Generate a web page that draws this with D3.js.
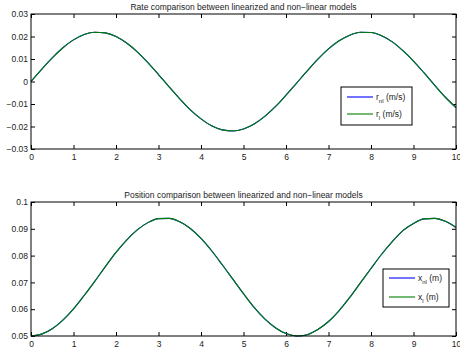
<!DOCTYPE html>
<html>
<head>
<meta charset="utf-8">
<script src="https://cdn.jsdelivr.net/npm/d3@7"></script>
<style>
body { margin: 0; background: #fff; }
text { font-family: "Liberation Sans", Arial, sans-serif; fill: #222; }
</style>
</head>
<body>
<svg id="chart" width="460" height="354"></svg>
<script>
// time samples (s)
var time = [0, 0.25, 0.5, 0.75, 1, 1.25, 1.5, 1.75, 2, 2.25, 2.5, 2.75, 3, 3.25, 3.5, 3.75, 4, 4.25, 4.5, 4.75, 5,
	5.25, 5.5, 5.75, 6, 6.25, 6.5, 6.75, 7, 7.25, 7.5, 7.75, 8, 8.25, 8.5, 8.75, 9, 9.25, 9.5, 9.75, 10];

// rate (m/s)
var rateNl = [0, 0.0054, 0.0105, 0.0150, 0.0185, 0.0209, 0.0219, 0.0216, 0.0200, 0.0171, 0.0132, 0.0084, 0.0031,
	-0.0024, -0.0077, -0.0126, -0.0166, -0.0197, -0.0215, -0.0220, -0.0211, -0.0189, -0.0155, -0.0112, -0.0061,
	-0.0007, 0.0047, 0.0099, 0.0145, 0.0181, 0.0206, 0.0219, 0.0218, 0.0203, 0.0176, 0.0137, 0.0091, 0.0038,
	-0.0017, -0.0070, -0.0116];
var rateL = [0, 0.0054, 0.0105, 0.0150, 0.0185, 0.0209, 0.0219, 0.0216, 0.0200, 0.0171, 0.0132, 0.0084, 0.0031,
	-0.0024, -0.0077, -0.0126, -0.0166, -0.0197, -0.0215, -0.0220, -0.0211, -0.0189, -0.0155, -0.0112, -0.0061,
	-0.0007, 0.0047, 0.0099, 0.0145, 0.0181, 0.0206, 0.0219, 0.0218, 0.0203, 0.0176, 0.0137, 0.0091, 0.0038,
	-0.0017, -0.0070, -0.0116];

// position (m)
var posNl = [0.0500, 0.0507, 0.0527, 0.0559, 0.0601, 0.0651, 0.0704, 0.0759, 0.0812, 0.0858, 0.0896, 0.0923, 0.0938,
	0.0939, 0.0926, 0.0901, 0.0864, 0.0818, 0.0766, 0.0712, 0.0658, 0.0607, 0.0564, 0.0531, 0.0509, 0.0500, 0.0505,
	0.0524, 0.0554, 0.0595, 0.0644, 0.0698, 0.0752, 0.0805, 0.0852, 0.0893, 0.0920, 0.0937, 0.0939, 0.0928, 0.0905];
var posL = [0.0500, 0.0507, 0.0527, 0.0559, 0.0601, 0.0651, 0.0704, 0.0759, 0.0812, 0.0858, 0.0896, 0.0923, 0.0938,
	0.0939, 0.0926, 0.0901, 0.0864, 0.0818, 0.0766, 0.0712, 0.0658, 0.0607, 0.0564, 0.0531, 0.0509, 0.0500, 0.0505,
	0.0524, 0.0554, 0.0595, 0.0644, 0.0698, 0.0752, 0.0805, 0.0852, 0.0893, 0.0920, 0.0937, 0.0939, 0.0928, 0.0905];

var xTicks = [0, 1, 2, 3, 4, 5, 6, 7, 8, 9, 10];
var rateTicks = [-0.03, -0.02, -0.01, 0, 0.01, 0.02, 0.03];
var posTicks = [0.05, 0.06, 0.07, 0.08, 0.09, 0.1];

var svg = d3.select("#chart");
var fs = "8.5px";

function fmt(v) {
	if (v == 0) return "0";
	var s = String(+v.toFixed(3));
	if (s.charAt(0) == "-") s = "\u2212" + s.slice(1);
	return s;
}

function panel(opt) {
	var x = d3.scaleLinear().domain([0, 10]).range([opt.left, opt.right]);
	var y = d3.scaleLinear().domain(opt.yDomain).range([opt.bottom, opt.top]);
	var g = svg.append("g");

	g.append("text")
		.attr("x", (opt.left + opt.right) / 2)
		.attr("y", opt.top - 4)
		.attr("text-anchor", "middle")
		.style("font-size", fs)
		.text(opt.title);

	// inward ticks on all four sides
	var tl = 4;
	g.append("g").attr("transform", "translate(0," + opt.bottom + ")")
		.call(d3.axisBottom(x).tickValues(xTicks).tickSizeInner(-tl).tickSizeOuter(0).tickPadding(5).tickFormat(d3.format("d")));
	g.append("g").attr("transform", "translate(0," + opt.top + ")")
		.call(d3.axisTop(x).tickValues(xTicks).tickSizeInner(-tl).tickSizeOuter(0).tickFormat(""));
	g.append("g").attr("transform", "translate(" + opt.left + ",0)")
		.call(d3.axisLeft(y).tickValues(opt.yTicks).tickSizeInner(-tl).tickSizeOuter(0).tickPadding(3).tickFormat(fmt));
	g.append("g").attr("transform", "translate(" + opt.right + ",0)")
		.call(d3.axisRight(y).tickValues(opt.yTicks).tickSizeInner(-tl).tickSizeOuter(0).tickFormat(""));
	g.selectAll(".domain").remove();
	g.selectAll(".tick line").attr("stroke", "#000");
	g.selectAll(".tick text").style("font-size", fs).attr("fill", "#222");

	var line = d3.line()
		.x(function (d, i) { return x(time[i]); })
		.y(function (d) { return y(d); })
		.curve(d3.curveMonotoneX);

	g.append("path").datum(opt.nl).attr("d", line)
		.attr("fill", "none").attr("stroke", "#0000ff").attr("stroke-width", 1.1);
	g.append("path").datum(opt.l).attr("d", line)
		.attr("fill", "none").attr("stroke", "#008000").attr("stroke-width", 1.1);

	g.append("rect")
		.attr("x", opt.left).attr("y", opt.top)
		.attr("width", opt.right - opt.left).attr("height", opt.bottom - opt.top)
		.attr("fill", "none").attr("stroke", "#000").attr("stroke-width", 1);

	// legend
	var lg = opt.legend;
	g.append("rect")
		.attr("x", lg.x).attr("y", lg.y).attr("width", lg.w).attr("height", lg.h)
		.attr("fill", "#fff").attr("stroke", "#000").attr("stroke-width", 1);
	lg.items.forEach(function (it, i) {
		var yy = lg.y + lg.rows[i];
		g.append("line")
			.attr("x1", lg.x + 6).attr("x2", lg.x + lg.lineLen)
			.attr("y1", yy).attr("y2", yy)
			.attr("stroke", it.color).attr("stroke-width", 1.1);
		var t = g.append("text")
			.attr("x", lg.x + lg.lineLen + 3).attr("y", yy + 3)
			.style("font-size", fs);
		t.append("tspan").text(it.base);
		t.append("tspan").attr("dy", 3).style("font-size", "6px").text(it.sub);
		t.append("tspan").attr("dy", -3).text(" " + it.unit);
	});
}

panel({
	left: 31, right: 456, top: 14, bottom: 149,
	yDomain: [-0.03, 0.03], yTicks: rateTicks,
	title: "Rate comparison between linearized and non\u2212linear models",
	nl: rateNl, l: rateL,
	legend: {
		x: 341, y: 87, w: 71, h: 38, lineLen: 32, rows: [10, 27],
		items: [
			{ base: "r", sub: "nl", unit: "(m/s)", color: "#0000ff" },
			{ base: "r", sub: "l", unit: "(m/s)", color: "#008000" }
		]
	}
});

panel({
	left: 31, right: 456, top: 202, bottom: 336,
	yDomain: [0.05, 0.1], yTicks: posTicks,
	title: "Position comparison between linearized and non\u2212linear models",
	nl: posNl, l: posL,
	legend: {
		x: 383, y: 269, w: 66, h: 38, lineLen: 32, rows: [9, 28],
		items: [
			{ base: "x", sub: "nl", unit: "(m)", color: "#0000ff" },
			{ base: "x", sub: "l", unit: "(m)", color: "#008000" }
		]
	}
});
</script>
</body>
</html>
